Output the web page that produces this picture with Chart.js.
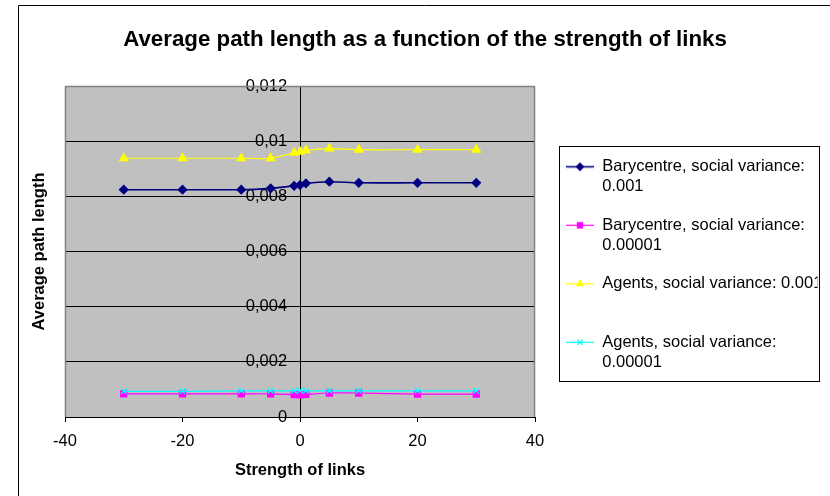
<!DOCTYPE html>
<html>
<head>
<meta charset="utf-8">
<script src="https://cdn.jsdelivr.net/npm/chart.js@4.4.1/dist/chart.umd.min.js"></script>
<style>
html,body{margin:0;padding:0;background:#fff;}
#wrap{width:830px;height:496px;position:relative;}
</style>
</head>
<body>
<div id="wrap"><canvas id="c" width="830" height="496"></canvas></div>
<script>
// ---------- data ----------
const chartTitle = 'Average path length as a function of the strength of links';
const xAxisTitle = 'Strength of links';
const yAxisTitle = 'Average path length';
const strengths  = [-30, -20, -10, -5, -1, 0, 1, 5, 10, 20, 30];
const baryHigh   = [0.00824, 0.00824, 0.00824, 0.00829, 0.00838, 0.00841, 0.00847, 0.00853, 0.00849, 0.00849, 0.00849];
const baryLow    = [0.00084, 0.00084, 0.00084, 0.00084, 0.00081, 0.00080, 0.00082, 0.00087, 0.00087, 0.00083, 0.00083];
const agentsHigh = [0.00938, 0.00938, 0.00938, 0.00938, 0.00958, 0.00962, 0.00967, 0.00973, 0.00969, 0.00969, 0.00969];
const agentsLow  = [0.00093, 0.00093, 0.00095, 0.00095, 0.00095, 0.00096, 0.00095, 0.00095, 0.00095, 0.00095, 0.00095];
const seriesNames = [
  ['Barycentre, social variance:', '0.001'],
  ['Barycentre, social variance:', '0.00001'],
  ['Agents, social variance: 0.001', ''],
  ['Agents, social variance:', '0.00001']
];
const xTickLabels = ['-40', '-20', '0', '20', '40'];
const yTickLabels = ['0', '0,002', '0,004', '0,006', '0,008', '0,01', '0,012'];

// ---------- style / layout ----------
const FONT = "'Liberation Sans', Arial, Helvetica, sans-serif";
Chart.defaults.font.family = FONT;
Chart.defaults.color = '#000';

const W = 830, H = 496;
const TEXT_SIZE = 16.5, TITLE_SIZE = 22.3, AXIS_TITLE_SIZE = 16.5;
const PLOT_TOP = 86, PLOT_BOTTOM = 417, PLOT_LEFT = 65, PLOT_RIGHT = 535;
const TITLE_CY = 40, YTITLE_CX = 39, XTITLE_CY = 470, XLABEL_CY = 441.7;
const TICK_LEN = 5;
const Y_LABEL_AT = -2.2;
const LEGEND_PAD = 18.5, LEGEND_ITEM_LEFT = 566, LEGEND_FIRST_LINE = 166.8, LEGEND_LINE_H = 20;
const ICON_W = 28;
const LEGEND_FRAME = {x: 559.5, y: 146.5, w: 260, h: 235};

const titleLH = TITLE_SIZE * 1.2;
const titlePadTop = TITLE_CY - titleLH / 2;
const titlePadBottom = PLOT_TOP - titlePadTop - titleLH;
const axLH = AXIS_TITLE_SIZE * 1.2;
const textLH = TEXT_SIZE * 1.2;

// legend geometry
const mctx = document.createElement('canvas').getContext('2d');
mctx.font = TEXT_SIZE + 'px ' + FONT;
let longest = 0;
seriesNames.forEach(lines => lines.forEach(t => { longest = Math.max(longest, mctx.measureText(t).width); }));
const legendLeft = LEGEND_ITEM_LEFT - LEGEND_PAD;
const legendMaxW = W - legendLeft;
const legendNatural = LEGEND_PAD + ICON_W + TEXT_SIZE / 2 + longest + 10;
const padR = Math.max(0, legendMaxW - legendNatural);
const padL = 20 + padR;
const leftAxisW = PLOT_LEFT - padL;
const rightAxisW = legendLeft - PLOT_RIGHT;
const legTitleH = LEGEND_FIRST_LINE - TEXT_SIZE / 2 - LEGEND_PAD - PLOT_TOP;

const COLORS = {navy: '#000080', magenta: '#FF00FF', yellow: '#FFFF00', cyan: '#00FFFF'};
const seriesStyles = [
  {color: COLORS.navy,    point: 'rectRot',  radius: 4.3, lw: 1.6, order: 3},
  {color: COLORS.magenta, point: 'rect',     radius: 4.3, lw: 1.2, order: 1},
  {color: COLORS.yellow,  point: 'triangle', radius: 4.8, lw: 1.2, order: 2},
  {color: COLORS.cyan,    point: 'crossRot', radius: 4,   lw: 1.2, order: 0}
];
const seriesValues = [baryHigh, baryLow, agentsHigh, agentsLow];

function makeIcon(st) {
  const c = document.createElement('canvas');
  c.width = ICON_W; c.height = 11;
  const x = c.getContext('2d');
  x.strokeStyle = st.color; x.lineWidth = st.lw;
  x.beginPath(); x.moveTo(0, 5.5); x.lineTo(ICON_W, 5.5); x.stroke();
  x.fillStyle = st.color; x.strokeStyle = st.color; x.lineWidth = 1.2;
  Chart.helpers.drawPoint(x, {pointStyle: st.point, radius: 3.6, borderWidth: 1.2, rotation: 0}, ICON_W / 2, 5.5);
  return c;
}

const datasets = seriesValues.map((vals, i) => {
  const st = seriesStyles[i];
  return {
    label: seriesNames[i].join(' '),
    data: strengths.map((s, k) => ({x: s, y: vals[k]})),
    borderColor: st.color,
    backgroundColor: st.color,
    borderWidth: st.lw,
    pointStyle: st.point,
    pointRadius: st.radius,
    pointHoverRadius: st.radius,
    pointBackgroundColor: st.color,
    pointBorderColor: st.color,
    pointBorderWidth: 1.2,
    tension: 0.3,
    order: st.order,
    xAxisID: 'x',
    yAxisID: 'y',
    _icon: makeIcon(st)
  };
});

const framePlugin = {
  id: 'frame',
  beforeDraw(chart) {
    const {ctx, chartArea: a} = chart;
    ctx.save();
    ctx.fillStyle = '#C0C0C0';
    ctx.fillRect(a.left, a.top, a.right - a.left, a.bottom - a.top);
    ctx.restore();
  },
  beforeDatasetsDraw(chart) {
    const {ctx, chartArea: a} = chart;
    ctx.save();
    ctx.strokeStyle = '#808080';
    ctx.lineWidth = 1.5;
    ctx.beginPath();
    ctx.moveTo(a.left + 0.5, a.bottom);
    ctx.lineTo(a.left + 0.5, a.top + 0.5);
    ctx.lineTo(a.right - 0.5, a.top + 0.5);
    ctx.lineTo(a.right - 0.5, a.bottom);
    ctx.stroke();
    ctx.restore();
  },
  afterDraw(chart) {
    const ctx = chart.ctx;
    const f = LEGEND_FRAME;
    ctx.save();
    ctx.fillStyle = '#fff';
    ctx.fillRect(f.x + f.w - 2, f.y - 1, W - (f.x + f.w - 2), f.h + 2);
    ctx.strokeStyle = '#000';
    ctx.lineWidth = 1;
    ctx.strokeRect(f.x, f.y, f.w, f.h);
    ctx.beginPath();
    ctx.moveTo(18.5, H);
    ctx.lineTo(18.5, 5.5);
    ctx.lineTo(W, 5.5);
    ctx.stroke();
    ctx.restore();
  }
};

new Chart(document.getElementById('c'), {
  type: 'line',
  data: {datasets},
  options: {
    responsive: false,
    animation: false,
    devicePixelRatio: 1,
    events: [],
    layout: {padding: {left: padL, right: padR, top: 0, bottom: 0}},
    plugins: {
      title: {
        display: true, text: chartTitle, color: '#000',
        font: {size: TITLE_SIZE, weight: 'bold', lineHeight: 1.2},
        padding: {top: titlePadTop, bottom: titlePadBottom}
      },
      legend: {
        position: 'right', align: 'start', fullSize: false, maxWidth: legendMaxW,
        title: {display: true, text: ' ', font: {size: TEXT_SIZE, lineHeight: 1.2}, padding: {top: 0, bottom: legTitleH - textLH}},
        labels: {
          usePointStyle: true, pointStyleWidth: ICON_W, padding: LEGEND_PAD, color: '#000',
          font: {size: TEXT_SIZE, lineHeight: LEGEND_LINE_H + 'px'},
          generateLabels(chart) {
            return chart.data.datasets.map((ds, i) => ({
              text: seriesNames[i],
              fillStyle: ds.borderColor,
              strokeStyle: ds.borderColor,
              lineWidth: 0,
              pointStyle: ds._icon,
              fontColor: '#000',
              hidden: false,
              datasetIndex: i
            }));
          }
        }
      },
      tooltip: {enabled: false}
    },
    scales: {
      x: {
        type: 'linear', position: 'bottom', min: -40, max: 40,
        ticks: {
          stepSize: 20, maxRotation: 0, autoSkip: false,
          padding: XLABEL_CY - PLOT_BOTTOM - TICK_LEN - textLH / 2,
          font: {size: TEXT_SIZE},
          callback: (v, i) => xTickLabels[i]
        },
        grid: {drawOnChartArea: false, drawTicks: true, tickLength: TICK_LEN, tickColor: '#000'},
        border: {display: true, color: '#000', width: 1},
        title: {
          display: true, text: xAxisTitle, color: '#000',
          font: {size: AXIS_TITLE_SIZE, weight: 'bold'},
          padding: {top: 0, bottom: H - XTITLE_CY - axLH / 2}
        },
        afterFit(s) { s.height = H - PLOT_BOTTOM; }
      },
      y: {
        type: 'linear', axis: 'y', position: {x: 0}, min: 0, max: 0.012,
        ticks: {display: false, stepSize: 0.002},
        grid: {
          drawOnChartArea: true, drawTicks: true, tickLength: TICK_LEN, tickColor: '#000', lineWidth: 1,
          color: c => (c.tick && c.tick.value > 0.0119) ? 'rgba(0,0,0,0)' : '#000'
        },
        border: {display: true, color: '#000', width: 1}
      },
      yLabels: {
        type: 'linear', axis: 'y', position: {x: Y_LABEL_AT}, min: 0, max: 0.012,
        ticks: {stepSize: 0.002, font: {size: TEXT_SIZE}, callback: (v, i) => yTickLabels[i]},
        grid: {display: false},
        border: {display: false}
      },
      yTitleAxis: {
        type: 'linear', axis: 'y', position: 'left',
        ticks: {display: false},
        grid: {display: false, drawTicks: false},
        border: {display: false},
        title: {
          display: true, text: yAxisTitle, color: '#000',
          font: {size: AXIS_TITLE_SIZE, weight: 'bold'},
          padding: {top: YTITLE_CX - padL - axLH / 2, bottom: 0}
        },
        afterFit(s) { s.width = leftAxisW; }
      },
      yRight: {
        type: 'linear', axis: 'y', position: 'right',
        ticks: {display: false},
        grid: {display: false, drawTicks: false},
        border: {display: false},
        afterFit(s) { s.width = rightAxisW; }
      }
    }
  },
  plugins: [framePlugin]
});
</script>
</body>
</html>
